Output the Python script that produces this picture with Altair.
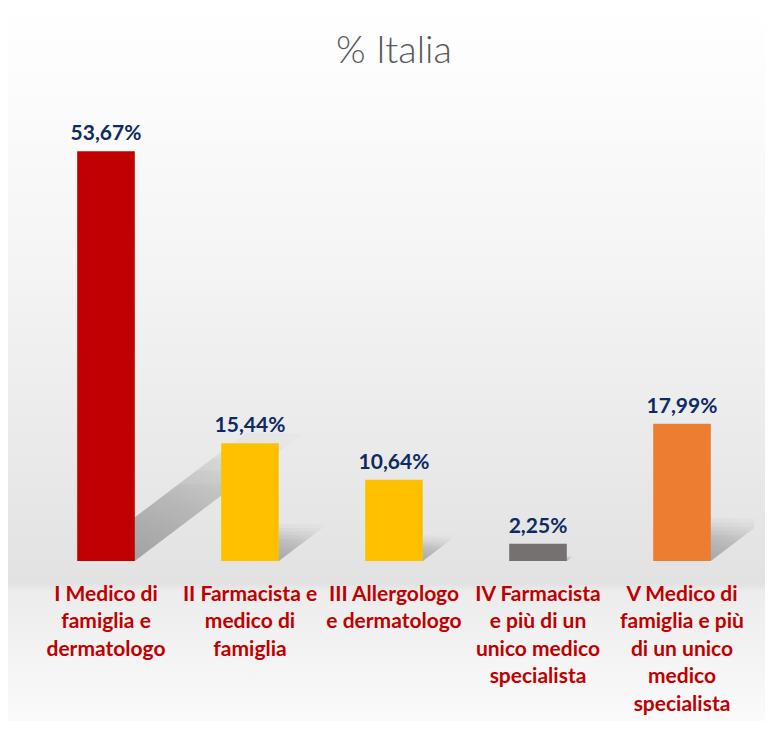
import altair as alt
import pandas as pd

categories = [
    "I Medico di\nfamiglia e\ndermatologo",
    "II Farmacista e\nmedico di\nfamiglia",
    "III Allergologo\ne dermatologo",
    "IV Farmacista\ne più di un\nunico medico\nspecialista",
    "V Medico di\nfamiglia e più\ndi un unico\nmedico\nspecialista",
]
values = [53.67, 15.44, 10.64, 2.25, 17.99]
colors = ["#C00000", "#FFC000", "#FFC000", "#767171", "#ED7D31"]

W, H = 720, 458
YMAX = 60
PAD_IN, PAD_OUT = 0.6, 0.3

df = pd.DataFrame({
    "cat": categories,
    "val": values,
    "color": colors,
    "label": [f"{v:.2f}%".replace(".", ",") for v in values],
})

# soft perspective shadow behind each bar (sheared copies of the bar, stacked for blur)
SHADOW_H = 0.25   # shadow height relative to bar height
SHADOW_K = 0.33   # horizontal shift (px) per px of bar height
SPREAD = [0.75, 0.88, 1.0, 1.12, 1.25]
step_px = W / len(categories)
px_per_unit = H / YMAX
rows = []
for i, (c, v) in enumerate(zip(categories, values)):
    for j, f in enumerate(SPREAD):
        xl, xr = i + PAD_OUT, i + PAD_OUT + (1 - PAD_IN)
        d = SHADOW_K * f * v * px_per_unit / step_px
        top = SHADOW_H * f * v
        slope = top / d
        for x in sorted({xl, xr, xl + d, xr + d}):
            up = min(top, max(0.0, (x - xl) * slope))
            lo = min(top, max(0.0, (x - xr) * slope))
            rows.append({"cat": c, "copy": j, "sx": x, "up": up, "lo": lo})
sdf = pd.DataFrame(rows)

xenc = alt.X("cat:N", sort=categories,
             scale=alt.Scale(paddingInner=PAD_IN, paddingOuter=PAD_OUT),
             axis=alt.Axis(title=None, labelAngle=0, domain=False, ticks=False,
                           labelExpr="split(datum.label, '\\n')",
                           labelFont="Lato", labelFontSize=21, labelFontWeight="bold",
                           labelColor="#C00000", labelLineHeight=27.5,
                           labelBaseline="top", labelPadding=22, labelLimit=0,
                           labelAlign="center", zindex=2))
yscale = alt.Scale(domain=[0, YMAX])

bg = alt.Chart(alt.Data(values=[{}])).mark_rect(
    fill=alt.LinearGradient(
        gradient="linear", x1=0, x2=0, y1=0, y2=1,
        stops=[
            alt.GradientStop(color="#ffffff", offset=0.0),
            alt.GradientStop(color="#f6f6f6", offset=0.3),
            alt.GradientStop(color="#e2e2e2", offset=0.765),
            alt.GradientStop(color="#ececec", offset=0.775),
            alt.GradientStop(color="#ffffff", offset=1.0),
        ]),
    stroke="#d9d9d9", strokeWidth=1.5,
).encode(x=alt.value(-29), x2=alt.value(W + 40), y=alt.value(-96), y2=alt.value(H + 200))

shadow = alt.Chart(sdf).mark_area(
    clip=True,
    fill=alt.LinearGradient(
        gradient="linear", x1=0, x2=1, y1=1, y2=0,
        stops=[
            alt.GradientStop(color="rgba(0,0,0,0.075)", offset=0.0),
            alt.GradientStop(color="rgba(0,0,0,0.045)", offset=0.6),
            alt.GradientStop(color="rgba(0,0,0,0.01)", offset=1.0),
        ]),
).encode(
    x=alt.X("sx:Q", scale=alt.Scale(domain=[0, len(categories)], nice=False, zero=False), axis=None),
    y=alt.Y("up:Q", scale=yscale, axis=None),
    y2="lo:Q",
    detail=["cat:N", "copy:N"],
)

bars = alt.Chart(df).mark_bar().encode(
    x=xenc, y=alt.Y("val:Q", scale=yscale, axis=None), color=alt.Color("color:N", scale=None)
)

text = alt.Chart(df).mark_text(
    baseline="alphabetic", dy=-11, font="Lato", fontSize=21, fontWeight="bold",
    color="#0E2A63"
).encode(x=alt.X("cat:N", sort=categories), y="val:Q", text="label:N")

chart = alt.layer(bg, shadow, bars, text).resolve_scale(x="independent").properties(
    width=W, height=H,
    title=alt.Title("% Italia", font="Lato", fontSize=38, fontWeight=300,
                    color="#595959", anchor="middle", offset=-65, zindex=2),
    autosize=alt.AutoSizeParams(type="none"),
    padding={"left": 26, "top": 95, "right": 11, "bottom": 160},
).configure_view(stroke=None).configure(background="white")

chart.save("out.html", embed_options={"renderer": "svg", "actions": False})
